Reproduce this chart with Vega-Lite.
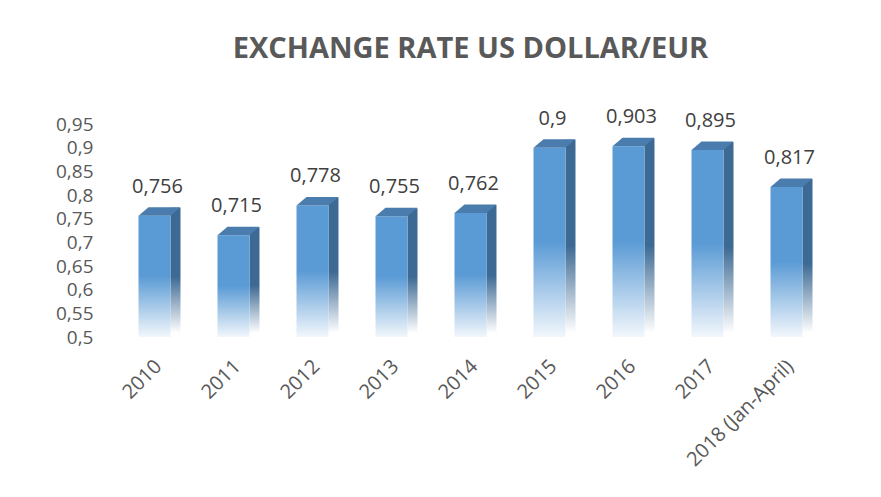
{
  "$schema": "https://vega.github.io/schema/vega-lite/v6.json",
  "autosize": {"type": "none"},
  "padding": {"left": 115, "top": 124, "right": 55, "bottom": 160},
  "width": 711,
  "height": 213,
  "background": "white",
  "config": {
    "view": {"stroke": null},
    "font": "Open Sans",
    "locale": {"number": {"decimal": ",", "thousands": ".", "grouping": [3], "currency": ["", " €"]}}
  },
  "title": {
    "text": "EXCHANGE RATE US DOLLAR/EUR",
    "fontSize": 29,
    "fontWeight": "bold",
    "color": "#595959",
    "font": "Open Sans",
    "offset": 43,
    "anchor": "middle"
  },
  "data": {
    "values": [
      {"year": "2010", "rate": 0.756},
      {"year": "2011", "rate": 0.715},
      {"year": "2012", "rate": 0.778},
      {"year": "2013", "rate": 0.755},
      {"year": "2014", "rate": 0.762},
      {"year": "2015", "rate": 0.9},
      {"year": "2016", "rate": 0.903},
      {"year": "2017", "rate": 0.895},
      {"year": "2018 (Jan-April)", "rate": 0.817}
    ]
  },
  "encoding": {
    "x": {
      "field": "year",
      "type": "nominal",
      "sort": null,
      "scale": {"paddingInner": 0.5, "paddingOuter": 0.25},
      "axis": {
        "title": null,
        "domain": false,
        "ticks": false,
        "labelAngle": -45,
        "labelFontSize": 20,
        "labelColor": "#595959",
        "labelPadding": 26,
        "labelAlign": "right",
        "labelBaseline": "middle",
        "labelOffset": 4
      }
    },
    "y": {
      "field": "rate",
      "type": "quantitative",
      "scale": {"domain": [0.5, 0.95], "zero": false, "nice": false},
      "axis": {
        "title": null,
        "grid": false,
        "domain": false,
        "ticks": false,
        "values": [0.5, 0.55, 0.6, 0.65, 0.7, 0.75, 0.8, 0.85, 0.9, 0.95],
        "format": ".2~f",
        "labelFontSize": 19,
        "labelColor": "#595959",
        "labelPadding": 22
      }
    }
  },
  "layer": [
    {
      "mark": {
        "type": "bar",
        "width": 10,
        "xOffset": 21,
        "yOffset": -8,
        "y2Offset": -4,
        "fill": {
          "gradient": "linear",
          "x1": 0, "y1": 0, "x2": 0, "y2": 1,
          "stops": [
            {"offset": 0, "color": "#3d6a94"},
            {"offset": 0.55, "color": "#3d6a94"},
            {"offset": 1, "color": "#ffffff"}
          ]
        }
      },
      "encoding": {"y2": {"datum": 0.5}}
    },
    {
      "mark": {
        "type": "bar",
        "width": 32,
        "fill": {
          "gradient": "linear",
          "x1": 0, "y1": 0, "x2": 0, "y2": 1,
          "stops": [
            {"offset": 0, "color": "#5b9bd5"},
            {"offset": 0.5, "color": "#5b9bd5"},
            {"offset": 1, "color": "#f2f7fc"}
          ]
        }
      },
      "encoding": {"y2": {"datum": 0.5}}
    },
    {
      "mark": {
        "type": "point",
        "shape": "M-0.615,0L-0.231,-0.327L1,-0.327L0.615,0Z",
        "size": 2704,
        "filled": true,
        "opacity": 1,
        "strokeWidth": 0,
        "color": "#4a7cad"
      }
    },
    {
      "mark": {
        "type": "text",
        "dy": -19,
        "xOffset": 3,
        "fontSize": 20,
        "color": "#404040",
        "baseline": "bottom"
      },
      "encoding": {
        "text": {"field": "rate", "type": "quantitative", "format": ".3~f"}
      }
    }
  ]
}
